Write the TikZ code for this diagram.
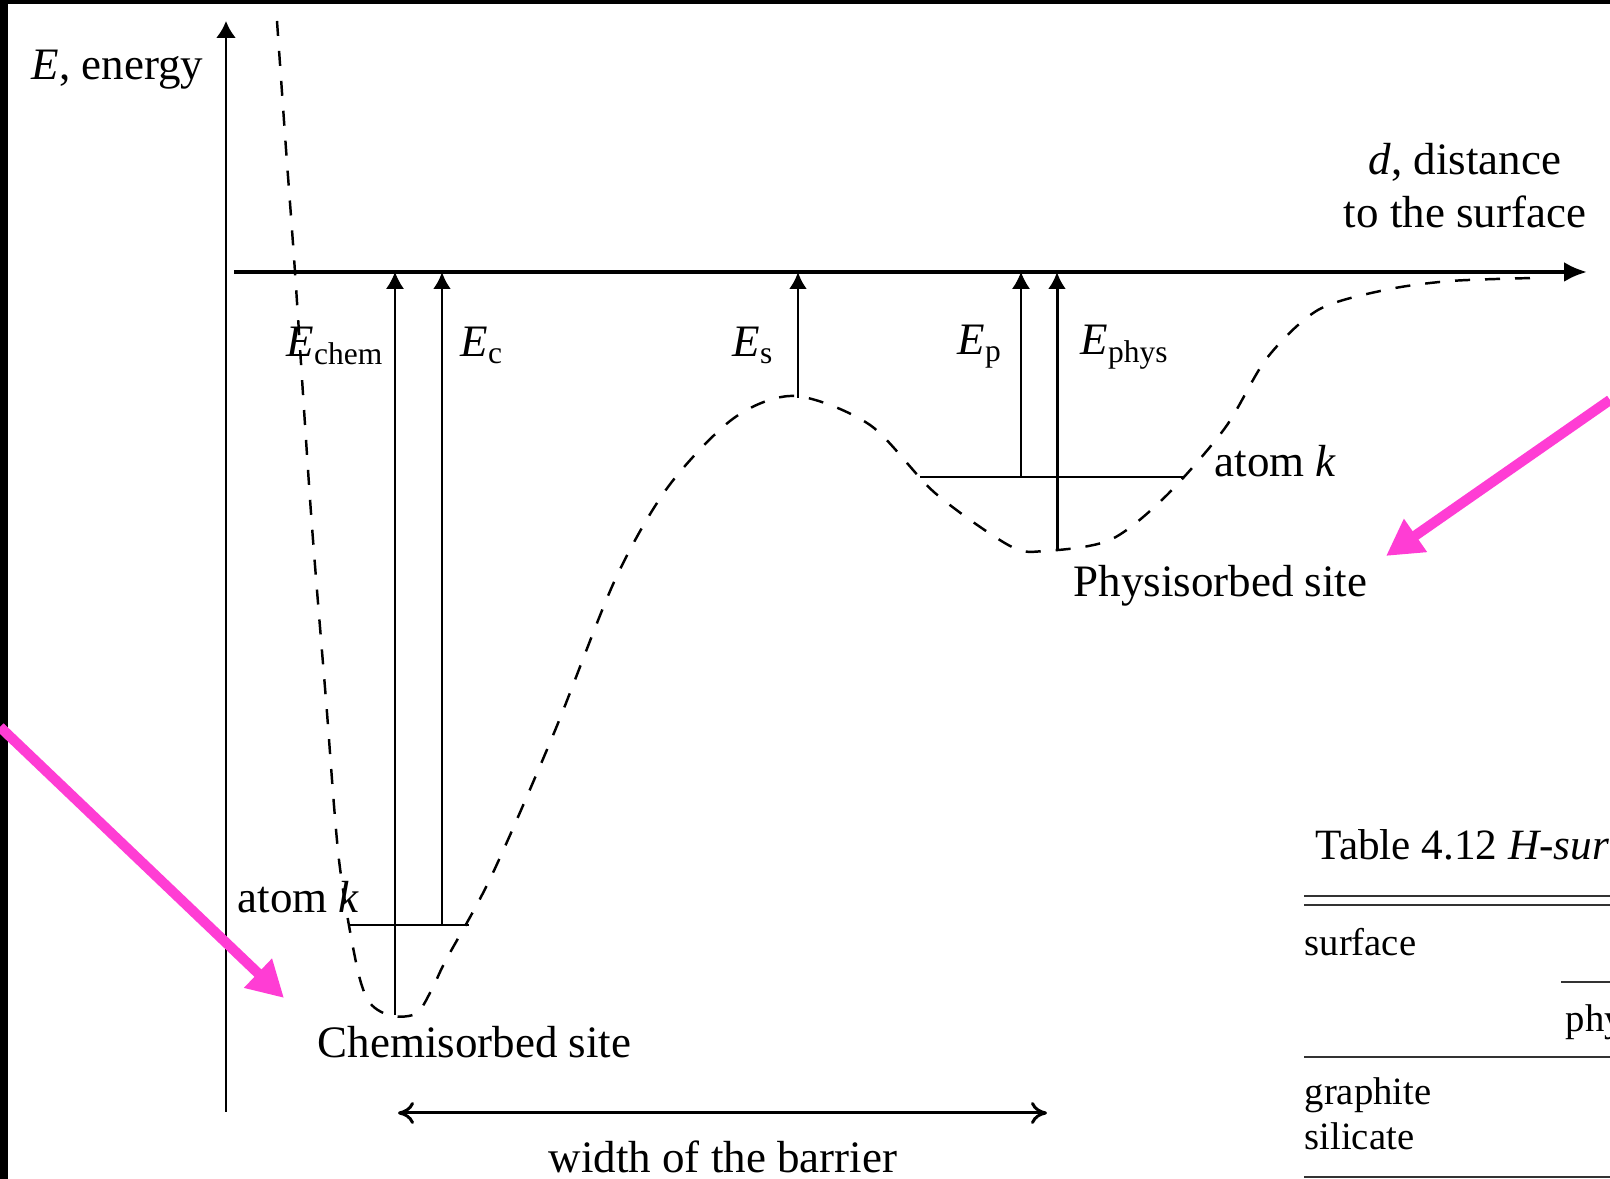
\documentclass[tikz,border=0pt]{standalone}
\usepackage{fontspec}
\setmainfont{Liberation Serif}
\usepackage{tikz}
\usetikzlibrary{arrows.meta,positioning,calc}

\definecolor{markpink}{RGB}{255,61,212}

\begin{document}
\begin{tikzpicture}[
    axis/.style={-{Latex[length=2.3mm,width=2mm]}, line width=1.1pt},
    uparrow/.style={-{Latex[length=1.7mm,width=1.8mm]}, line width=0.85pt},
    thinarrow/.style={-{Latex[length=1.7mm,width=1.8mm]}, line width=0.35pt},
    level/.style={line width=0.8pt},
    potential/.style={line width=0.7pt, dash pattern=on 1.5mm off 1.5mm},
    lbl/.style={inner sep=0pt, anchor=base west, font=\fontsize{12.8}{15}\selectfont},
    tbl/.style={inner sep=0pt, anchor=base west, font=\fontsize{11}{13}\selectfont},
    rule/.style={line width=0.45pt, black!80},
    pinkarrow/.style={markpink, line width=2.9pt, -{Triangle[length=3.6mm,width=3.8mm]}}
]

% --- frame ---
\fill[black] (0,0) rectangle (16.10,11.79);
\fill[white] (0.08,0) rectangle (16.10,11.75);
\useasboundingbox (0,0) rectangle (16.10,11.79);

% --- axes ---
\coordinate (O) at (2.26,9.07);
\coordinate (ybot) at (2.26,0.67);
\coordinate (ytop) at (2.26,11.58);
\coordinate (xleft) at (2.34,9.07);
\coordinate (xright) at (15.87,9.07);
\draw[axis, line width=0.75pt, -{Latex[length=1.7mm,width=2mm]}] (ybot) -- (ytop);
\draw[axis] (xleft) -- (xright);

\node[lbl] (elabel) at (0.31,10.99) {\textit{E}, energy};
\node[lbl, anchor=center, align=center] (dlabel) at (14.65,9.93) {\textit{d}, distance\\to the surface};

% --- potential curve ---
\draw[potential] plot[smooth, tension=0.5] coordinates {
    (2.77,11.58) (2.86,10.30) (2.95,9.07) (3.11,6.66) (3.26,4.79) (3.39,3.19)
    (3.57,2.12) (3.70,1.76) (3.92,1.63) (4.17,1.66) (4.33,1.92) (4.46,2.19)
    (4.91,3.02) (5.54,4.46) (6.15,5.99) (6.68,6.92) (7.34,7.61) (7.95,7.83)
    (8.70,7.54) (9.35,6.86) (10.10,6.33) (10.45,6.28) (11.10,6.39) (11.65,6.82)
    (12.25,7.51) (12.67,8.21) (13.18,8.69) (13.85,8.89) (14.51,8.98) (15.35,9.01)};

% --- levels of atom k ---
\coordinate (chemL) at (3.48,2.54);
\coordinate (chemR) at (4.69,2.54);
\coordinate (physL) at (9.20,7.02);
\coordinate (physR) at (11.83,7.02);
\draw[level, line width=0.55pt] (chemL) -- (chemR);
\draw[level] (physL) -- (physR);

% --- energy arrows ---
\coordinate (chemmin) at (3.95,1.64);
\coordinate (chemk) at (4.42,2.54);
\coordinate (saddle) at (7.98,7.81);
\coordinate (physk) at (10.21,7.02);
\coordinate (physmin) at (10.57,6.30);
\draw[thinarrow] (chemmin) -- (chemmin |- O);
\draw[uparrow] (chemk) -- (chemk |- O);
\draw[uparrow] (saddle) -- (saddle |- O);
\draw[thinarrow] (physk) -- (physk |- O);
\draw[uparrow] (physmin) -- (physmin |- O);

\node[lbl] (lEchem) at (2.86,8.22) {\textit{E}\textsubscript{chem}};
\node[lbl] (lEc) at (4.60,8.22) {\textit{E}\textsubscript{c}};
\node[lbl] (lEs) at (7.32,8.22) {\textit{E}\textsubscript{s}};
\node[lbl] (lEp) at (9.57,8.24) {\textit{E}\textsubscript{p}};
\node[lbl] (lEphys) at (10.80,8.24) {\textit{E}\textsubscript{phys}};

\node[lbl] (atomchem) at (2.37,2.66) {atom \textit{k}};
\node[lbl] (atomphys) at (12.14,7.02) {atom \textit{k}};
\node[lbl] (chemsite) at (3.17,1.21) {Chemisorbed site};
\node[lbl] (physsite) at (10.73,5.82) {Physisorbed site};

% --- barrier width ---
\coordinate (wL) at (3.98,0.66);
\coordinate (wR) at (10.47,0.66);
\draw[{To[length=1.6mm,width=2.2mm]}-{To[length=1.6mm,width=2.2mm]}, line width=0.85pt] (wL) -- (wR);
\node[lbl, anchor=base] (wlabel) at (7.23,0.06) {width of the barrier};

% --- pink markers ---
\coordinate (pinkLstart) at (0,4.52);
\coordinate (pinkLend) at (2.84,1.81);
\coordinate (pinkRstart) at (16.10,7.79);
\coordinate (pinkRend) at (13.86,6.23);
\draw[pinkarrow] (pinkLstart) -- (pinkLend);
\draw[pinkarrow] (pinkRstart) -- (pinkRend);

% --- table fragment, cut at the edge ---
\begin{scope}
\clip (0,0) rectangle (16.10,11.79);
\node[tbl, font=\fontsize{12.3}{14}\selectfont] (tcap) at (13.15,3.19) {Table 4.12 \textit{H-sur}};
\draw[rule] (13.04,2.83) -- (16.10,2.83);
\draw[rule] (13.04,2.74) -- (16.10,2.74);
\node[tbl] (tsurf) at (13.04,2.23) {surface};
\draw[rule] (15.61,1.97) -- (16.10,1.97);
\node[tbl] (tphys) at (15.65,1.47) {phy};
\draw[rule] (13.04,1.22) -- (16.10,1.22);
\node[tbl] (tgraph) at (13.04,0.74) {graphite};
\node[tbl] (tsil) at (13.04,0.29) {silicate};
\draw[rule] (13.04,0.02) -- (16.10,0.02);
\end{scope}

\end{tikzpicture}
\end{document}
